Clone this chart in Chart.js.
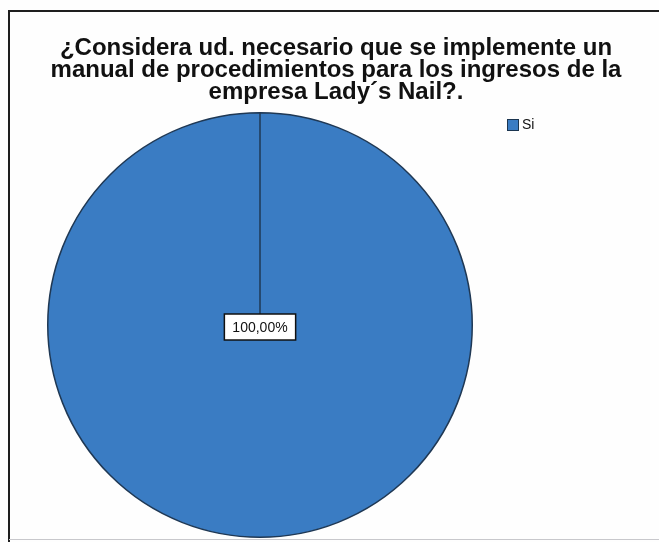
<!DOCTYPE html>
<html>
<head>
<meta charset="utf-8">
<script src="https://cdn.jsdelivr.net/npm/chart.js@4.4.0/dist/chart.umd.min.js"></script>
<style>
  html, body { margin: 0; padding: 0; background: #fff; }
  #wrap { width: 659px; height: 542px; position: relative; }
</style>
</head>
<body>
<div id="wrap"><canvas id="chart" width="659" height="542"></canvas></div>
<script>
// chart data
const titleLines = [
    '¿Considera ud. necesario que se implemente un',
    'manual de procedimientos para los ingresos de la',
    'empresa Lady´s Nail?.'
];
const categories = ['Si'];
const percentages = [100];
const sliceColors = ['#3a7cc3'];

// frame, title, legend and the boxed percent label
const decorations = {
    id: 'decorations',
    beforeDraw(chart) {
        const ctx = chart.ctx;
        ctx.save();
        ctx.fillStyle = '#fefefe';
        ctx.fillRect(0, 0, chart.width, chart.height);
        ctx.strokeStyle = '#1e1e1e';
        ctx.lineWidth = 2;
        ctx.beginPath();
        ctx.moveTo(9, chart.height);
        ctx.lineTo(9, 11);
        ctx.lineTo(chart.width, 11);
        ctx.stroke();
        ctx.strokeStyle = '#c8c8cc';
        ctx.lineWidth = 1;
        ctx.beginPath();
        ctx.moveTo(9, 539.5);
        ctx.lineTo(chart.width, 539.5);
        ctx.stroke();
        ctx.restore();
    },
    afterDraw(chart) {
        const ctx = chart.ctx;
        ctx.save();
        // title
        ctx.fillStyle = '#111';
        ctx.font = 'bold 24px "Liberation Sans", Arial, sans-serif';
        ctx.textAlign = 'center';
        ctx.textBaseline = 'alphabetic';
        titleLines.forEach((line, i) => {
            ctx.fillText(line, 336, 55 + i * 22);
        });

        // legend
        const bg = chart.data.datasets[0].backgroundColor;
        chart.data.labels.forEach((label, i) => {
            const y = 119 + i * 18;
            ctx.fillStyle = bg[i];
            ctx.fillRect(507, y, 12, 12);
            ctx.strokeStyle = '#1b3550';
            ctx.lineWidth = 1;
            ctx.strokeRect(507.5, y + 0.5, 11, 11);
            ctx.fillStyle = '#111';
            ctx.font = '14px "Liberation Sans", Arial, sans-serif';
            ctx.textAlign = 'left';
            ctx.textBaseline = 'middle';
            ctx.fillText(label, 522, y + 6.5);
        });

        // percent label at the pie centre
        const arc = chart.getDatasetMeta(0).data[0];
        const value = chart.data.datasets[0].data[0];
        const text = value.toFixed(2).replace('.', ',') + '%';
        ctx.font = '14px "Liberation Sans", Arial, sans-serif';
        const w = ctx.measureText(text).width + 16;
        const h = 26;
        const cx = arc.x, cy = arc.y + 2;
        ctx.fillStyle = '#fff';
        ctx.fillRect(cx - w / 2, cy - h / 2, w, h);
        ctx.strokeStyle = '#111';
        ctx.lineWidth = 1.5;
        ctx.strokeRect(cx - w / 2, cy - h / 2, w, h);
        ctx.fillStyle = '#111';
        ctx.textAlign = 'center';
        ctx.textBaseline = 'middle';
        ctx.fillText(text, cx, cy + 1);
        ctx.restore();
    }
};

new Chart(document.getElementById('chart'), {
    type: 'pie',
    data: {
        labels: categories,
        datasets: [{
            data: percentages,
            backgroundColor: sliceColors,
            borderColor: '#1f3854',
            borderWidth: 1.5
        }]
    },
    options: {
        responsive: false,
        animation: false,
        layout: {
            padding: { top: 112, bottom: 4, left: 47, right: 186 }
        },
        plugins: {
            legend: { display: false },
            title: { display: false },
            tooltip: { enabled: false }
        }
    },
    plugins: [decorations]
});
</script>
</body>
</html>
